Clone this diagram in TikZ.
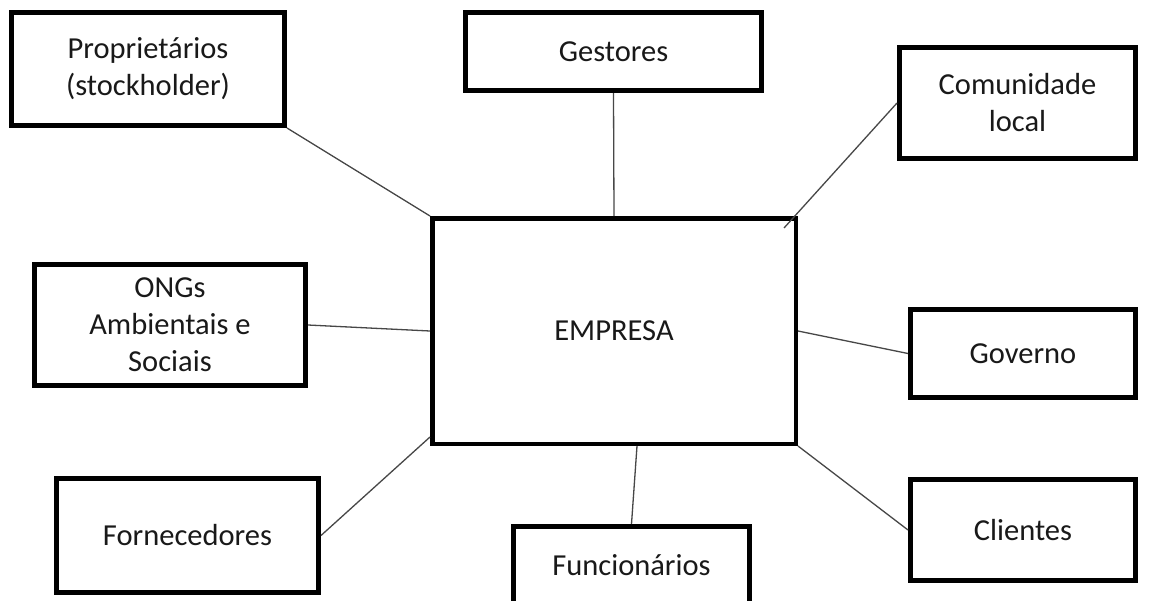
\documentclass[tikz,border=0pt]{standalone}
\usepackage{fontspec}
\setmainfont{Carlito}
\begin{document}
\begin{tikzpicture}[x=1pt,y=-1pt,
  box/.style={draw=black,line width=5pt,fill=white,align=center,
    inner sep=0pt,text=black!90,
    font=\fontsize{30.5}{37}\selectfont},
  link/.style={draw=black!72,line width=1.3pt}]
  \clip (0,0) rectangle (1149,600);
  \fill[white] (0,0) rectangle (1149,600);

  % central company box
  \node[box,line width=4.5pt,minimum width=363.5pt,minimum height=225.5pt]
    (emp) at (614,331) {EMPRESA};

  % stakeholder boxes
  \node[box,minimum width=273pt,minimum height=113pt] (prop) at (148,69)
    {Propriet\'arios\\(stockholder)};
  \node[box,minimum width=296pt,minimum height=78pt] (gest) at (613.5,51.5)
    {Gestores};
  \node[box,minimum width=236pt,minimum height=111pt] (comu) at (1017.5,103)
    {Comunidade\\local};
  \node[box,minimum width=271pt,minimum height=121pt] (ongs) at (170,325)
    {ONGs\\Ambientais e\\Sociais};
  \node[box,minimum width=225pt,minimum height=88pt] (gove) at (1023,353.5)
    {Governo};
  \node[box,minimum width=262pt,minimum height=114pt] (forn) at (187.5,535.5)
    {Fornecedores};
  \node[box,minimum width=236pt,minimum height=77pt] (func) at (631.5,565)
    {Funcion\'arios};
  \node[box,minimum width=225pt,minimum height=101pt] (clie) at (1023,530)
    {Clientes};

  % connector end points on the company box
  \coordinate (cendcomu) at (784,228);
  \coordinate (cendforn) at (430,437);
  \coordinate (cendfunc) at (637,446);

  % connectors
  \draw[link] (prop.south east) -- (emp.north west);
  \draw[link] (gest.south) -- (emp.north);
  \draw[link] (comu.west) -- (cendcomu);
  \draw[link] (ongs.east) -- (emp.west);
  \draw[link] (emp.east) -- (gove.west);
  \draw[link] (forn.east) -- (cendforn);
  \draw[link] (cendfunc) -- (func.north);
  \draw[link] (emp.south east) -- (clie.west);
\end{tikzpicture}
\end{document}
